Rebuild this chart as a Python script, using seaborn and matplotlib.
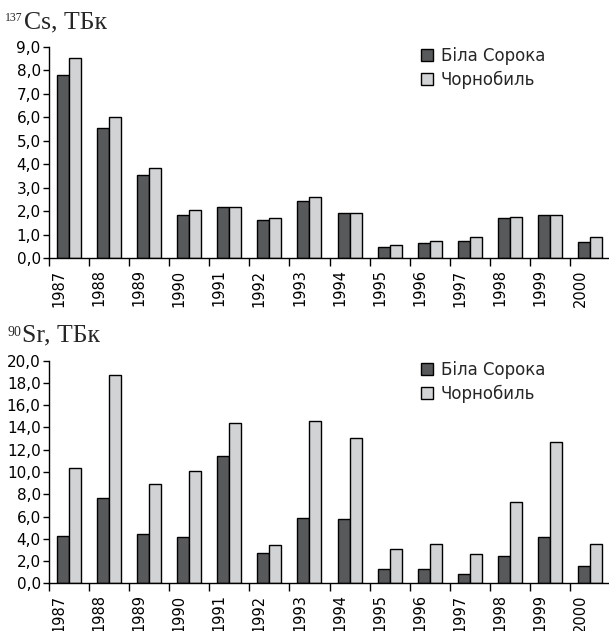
import matplotlib
matplotlib.use("Agg")
import matplotlib.pyplot as plt
import seaborn as sns
import pandas as pd
import numpy as np

years = [str(y) for y in range(1987, 2001)]
series_names = ["Біла Сорока", "Чорнобиль"]

cs_bila_soroka = [7.8, 5.55, 3.56, 1.86, 2.17, 1.63, 2.45, 1.92, 0.49, 0.66, 0.75, 1.72, 1.86, 0.69]
cs_chornobyl = [8.5, 6.03, 3.86, 2.04, 2.17, 1.72, 2.62, 1.94, 0.58, 0.75, 0.91, 1.76, 1.86, 0.89]

sr_bila_soroka = [4.25, 7.64, 4.4, 4.16, 11.41, 2.75, 5.84, 5.78, 1.26, 1.26, 0.84, 2.48, 4.19, 1.58]
sr_chornobyl = [10.36, 18.74, 8.92, 10.12, 14.43, 3.47, 14.55, 13.08, 3.11, 3.53, 2.66, 7.3, 12.7, 3.5]

cs_ticks = [0, 1, 2, 3, 4, 5, 6, 7, 8, 9]
sr_ticks = [0, 2, 4, 6, 8, 10, 12, 14, 16, 18, 20]

colors = ["#58595b", "#d1d3d4"]

sns.set_theme(style="white")
plt.rcParams["font.family"] = ["DejaVu Sans"]
plt.rcParams["axes.edgecolor"] = "black"
plt.rcParams["axes.linewidth"] = 1.0

W, H = 609, 631
fig = plt.figure(figsize=(W / 100, H / 100), dpi=100)


def frame(a, b):
    return pd.DataFrame({
        "year": years * 2,
        "value": list(a) + list(b),
        "site": [series_names[0]] * len(years) + [series_names[1]] * len(years),
    })


def panel(rect, a, b, ticks, ymax, legend_top):
    ax = fig.add_axes(rect)
    df = frame(a, b)
    sns.barplot(data=df, x="year", y="value", hue="site", order=years,
                hue_order=series_names, palette=colors, width=0.6,
                edgecolor="black", linewidth=1.0, saturation=1, ax=ax)
    ax.set_xlim(-0.5, 13.45)
    ax.set_ylim(0, ymax)
    ax.set_xlabel("")
    ax.set_ylabel("")
    sns.despine(ax=ax)
    ax.set_yticks(ticks)
    ax.set_yticklabels([f"{t:.1f}".replace(".", ",") for t in ticks])
    ax.tick_params(axis="y", which="major", left=True, length=4, width=1,
                   color="black", pad=2, labelsize=11, labelcolor="black")
    # category boundaries carry the tick marks, labels sit inside each slot
    n = len(years)
    ax.set_xticks(np.arange(n) - 0.5, minor=True)
    ax.set_xticks(np.arange(n) - 0.25)
    ax.set_xticklabels(years, rotation=90, va="top", ha="center")
    ax.tick_params(axis="x", which="minor", bottom=True, length=6, width=1,
                   color="black")
    ax.tick_params(axis="x", which="major", bottom=False, length=0, pad=8,
                   labelsize=10.5, labelcolor="black")
    ax.legend(loc="upper left", bbox_to_anchor=(421 / W, legend_top),
              bbox_transform=fig.transFigure, frameon=False, fontsize=12,
              handlelength=0.7, handleheight=0.7, handletextpad=0.5,
              labelspacing=0.35, borderpad=0, borderaxespad=0)
    for p in ax.get_legend().get_patches():
        p.set_edgecolor("black")
        p.set_linewidth(1.0)
    return ax


ax1 = panel([49 / W, 1 - 258.3 / H, 559 / W, 211.6 / H],
            cs_bila_soroka, cs_chornobyl, cs_ticks, 9, 1 - 47 / H)
ax2 = panel([49 / W, 1 - 583.3 / H, 559 / W, 222.6 / H],
            sr_bila_soroka, sr_chornobyl, sr_ticks, 20, 1 - 361 / H)

serif = ["Liberation Serif", "DejaVu Serif"]
fig.text(23 / W, 1 - 12 / H, "137", family=serif, fontsize=8.5,
         ha="right", va="top")
fig.text(24 / W, 1 - 28 / H, "Cs, ТБк", family=serif, fontsize=18.5,
         ha="left", va="baseline")
fig.text(21 / W, 1 - 326 / H, "90", family=serif, fontsize=10,
         ha="right", va="top")
fig.text(22 / W, 1 - 341 / H, "Sr, ТБк", family=serif, fontsize=18.5,
         ha="left", va="baseline")

fig.savefig("out.png", dpi=100)
